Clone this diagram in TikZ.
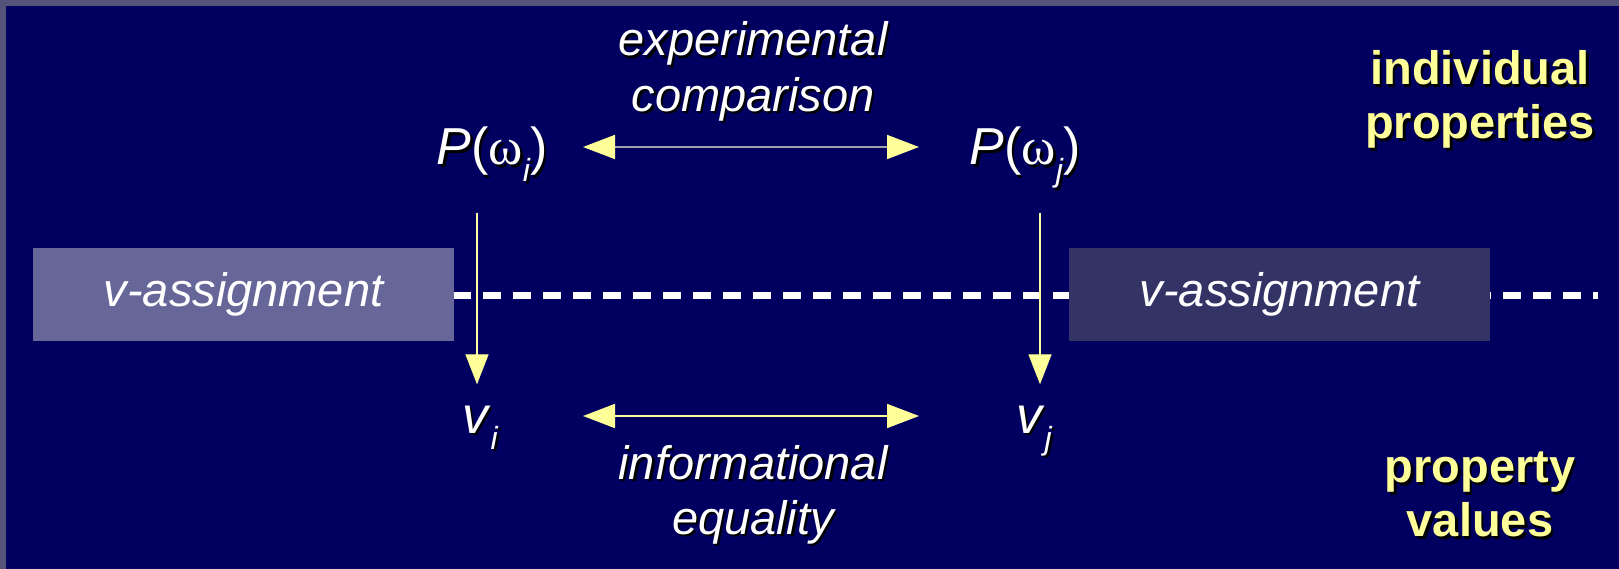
\documentclass[tikz,border=0pt]{standalone}
\usepackage{fontspec}
\setmainfont{Liberation Sans}
\newfontfamily\greekfont{Liberation Serif}
\usetikzlibrary{arrows.meta}
\definecolor{bg}{HTML}{010060}
\definecolor{frame}{HTML}{54547A}
\definecolor{boxA}{HTML}{666699}
\definecolor{boxB}{HTML}{333366}
\definecolor{softyellow}{HTML}{FFFF99}
\definecolor{shaftgray}{HTML}{A0A0A8}
\newcommand\shd[1]{\leavevmode\rlap{\kern2.5bp\raisebox{-2.5bp}{\color{black}#1}}#1}
\newcommand\subi[1]{\raisebox{-17bp}{\fontsize{32bp}{32bp}\selectfont\itshape #1}}
\newcommand\subv[1]{\raisebox{-16bp}{\fontsize{32bp}{32bp}\selectfont\itshape #1}}
\tikzset{
  lbl/.style={text=white, inner sep=0pt, align=center,
    font=\fontsize{47bp}{55bp}\selectfont\itshape},
  sym/.style={text=white, inner sep=0pt, font=\fontsize{52bp}{60bp}\selectfont},
  tagtext/.style={text=softyellow, inner sep=0pt, align=center,
    font=\fontsize{47bp}{54bp}\selectfont\bfseries},
  vbox/.style={minimum width=421bp, minimum height=93bp, inner sep=0pt,
    text=white, font=\fontsize{47bp}{55bp}\selectfont\itshape},
  harrow/.style={line width=1.8bp, {Triangle[length=32bp,width=24bp,color=softyellow]}-{Triangle[length=32bp,width=24bp,color=softyellow]}},
  varrow/.style={draw=softyellow!85!white, line width=1.3bp, -{Triangle[length=30bp,width=23bp,color=softyellow]}},
  dashline/.style={draw=white, line width=7bp, dash pattern=on 18bp off 12bp},
}
\begin{document}
\begin{tikzpicture}[x=1bp,y=-1bp]
\useasboundingbox (0,0) rectangle (1619,569);
\fill[bg] (0,0) rectangle (1619,569);
\fill[frame] (0,0) rectangle (1619,6);
\fill[frame] (0,0) rectangle (6,569);

% dashed baseline
\coordinate (dl) at (33,295);
\coordinate (dr) at (1598,295);
\draw[dashline] (dl) -- (dr);

% boxes
\node[vbox, fill=boxA] (boxL) at (243.5,294.5) {v-assignment};
\node[vbox, fill=boxB] (boxR) at (1279.5,294.5) {v-assignment};

% labels
\node[lbl] (expc) at (753,72.6) {\shd{experimental}\\\shd{comparison}};
\node[lbl] (infeq) at (753,496) {\shd{informational}\\\shd{equality}};
\node[tagtext] (indprop) at (1480,101) {\shd{individual}\\\shd{properties}};
\node[tagtext] (propval) at (1480,496) {\shd{property}\\\shd{values}};

% symbols
\node[sym, anchor=base] (Pi) at (492,165) {\shd{\textit{P}({\greekfont ω}\subi{i})}};
\node[sym, anchor=base] (Pj) at (1025,165) {\shd{\textit{P}({\greekfont ω}\subi{j})}};
\node[sym, anchor=base] (vi) at (480,433) {\shd{\textit{v}\subv{i}}};
\node[sym, anchor=base] (vj) at (1034,433) {\shd{\textit{v}\subv{j}}};

% vertical arrows
\draw[varrow, shorten <=28bp, shorten >=21bp] ([xshift=-3bp]vi.north |- Pi.south) -- ([xshift=-3bp]vi.north);
\draw[varrow, shorten <=28bp, shorten >=21bp] ([xshift=6bp]vj.north |- Pi.south) -- ([xshift=6bp]vj.north);

% horizontal arrows
\coordinate (ta) at (583,147);
\coordinate (tb) at (919,147);
\coordinate (ba) at (583,416);
\coordinate (bb) at (919,416);
\draw[harrow, draw=shaftgray] (ta) -- (tb);
\draw[harrow, draw=softyellow] (ba) -- (bb);
\end{tikzpicture}
\end{document}
